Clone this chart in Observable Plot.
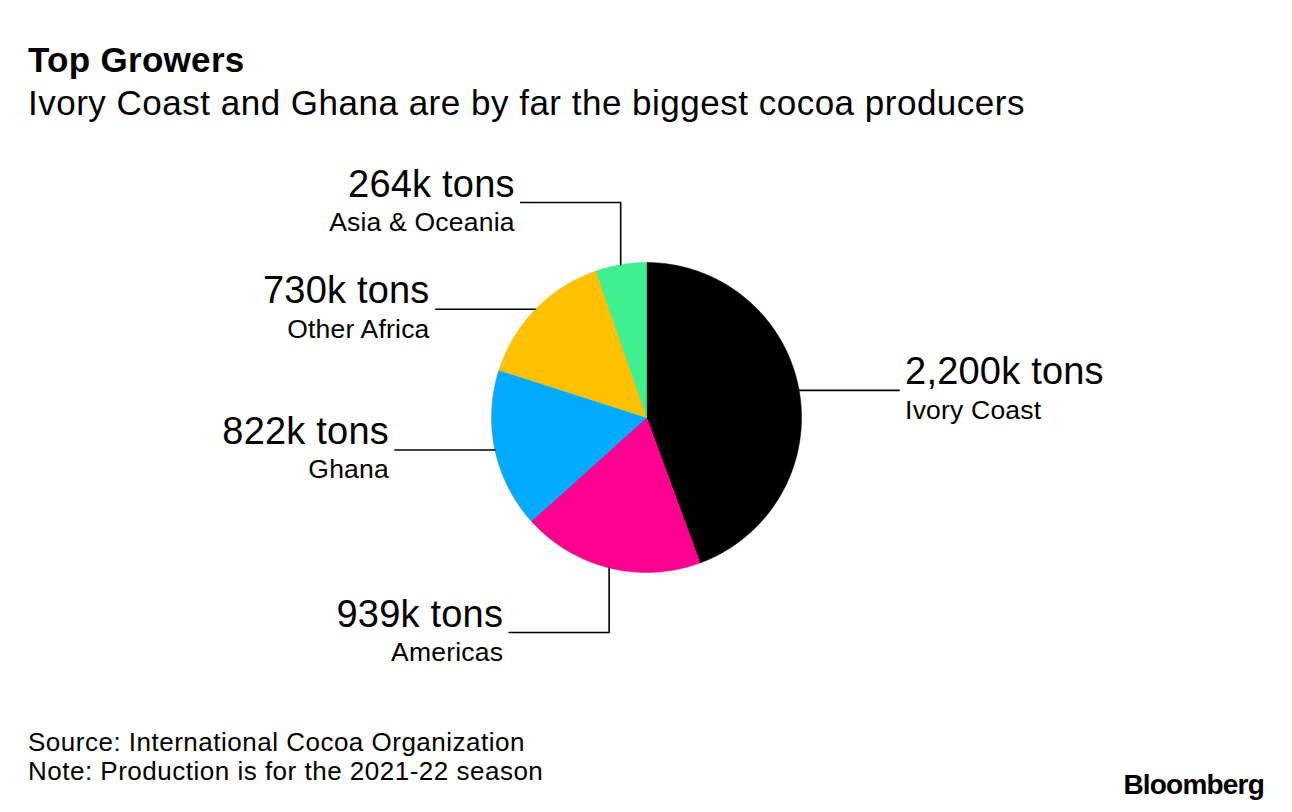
<!DOCTYPE html>
<html>
<head>
<meta charset="utf-8">
<script src="https://cdn.jsdelivr.net/npm/d3@7"></script>
<script src="https://cdn.jsdelivr.net/npm/@observablehq/plot@0.6"></script>
<style>
  html, body { margin: 0; padding: 0; background: #fff; }
  body { width: 1292px; height: 812px; position: relative; overflow: hidden; font-family: "Liberation Sans", Arial, sans-serif; color: #000; }
  #title { position: absolute; left: 28px; top: 40px; font-size: 35px; line-height: 40px; font-weight: bold; letter-spacing: 0.3px; }
  #subtitle { position: absolute; left: 28px; top: 83px; font-size: 35px; line-height: 40px; letter-spacing: 0.5px; }
  #chart { position: absolute; left: 0; top: 140px; }
  #source { position: absolute; left: 28px; top: 728px; font-size: 26px; line-height: 29px; letter-spacing: 0.5px; }
  #logo { position: absolute; right: 28px; top: 769px; font-size: 28px; font-weight: bold; letter-spacing: -0.8px; }
</style>
</head>
<body>
<div id="title">Top Growers</div>
<div id="subtitle">Ivory Coast and Ghana are by far the biggest cocoa producers</div>
<div id="chart"></div>
<div id="source">Source: International Cocoa Organization<br>Note: Production is for the 2021-22 season</div>
<div id="logo">Bloomberg</div>
<script>
// ---- data ----
const regions = ["Ivory Coast", "Americas", "Ghana", "Other Africa", "Asia & Oceania"];
const production = [2200, 939, 822, 730, 264]; // thousand tons
const valueLabels = ["2,200k tons", "939k tons", "822k tons", "730k tons", "264k tons"];
const colors = ["#000000", "#ff0090", "#00aaff", "#ffc000", "#40f090"];

// ---- layout ----
const W = 1292, H = 560;
const R = 155;                 // pie radius (in chart units = px)
const cx = 646, cy = 277;      // pie centre in svg px
const hLen = 100;              // horizontal leader length
const vLevel = 215;            // elbow distance for vertical leaders
const leaderKind = {"Ivory Coast": "h", "Americas": "v", "Ghana": "h", "Other Africa": "h", "Asia & Oceania": "v"};

const pie = d3.pie().sort(null).value((d) => d.value)(
  regions.map((r, i) => ({region: r, value: production[i], color: colors[i], label: valueLabels[i]}))
);

// slice polygons
const slicePts = [];
for (const s of pie) {
  const n = Math.max(2, Math.ceil((s.endAngle - s.startAngle) / 0.01));
  slicePts.push({region: s.data.region, x: 0, y: 0});
  for (let k = 0; k <= n; k++) {
    const a = s.startAngle + (s.endAngle - s.startAngle) * k / n;
    slicePts.push({region: s.data.region, x: R * Math.sin(a), y: R * Math.cos(a)});
  }
  slicePts.push({region: s.data.region, x: 0, y: 0});
}

// leaders and labels
const leaderPts = [];
const labels = [];
for (const s of pie) {
  const m = (s.startAngle + s.endAngle) / 2;
  const px = R * Math.sin(m), py = R * Math.cos(m);
  const side = px >= 0 ? 1 : -1;
  const reg = s.data.region;
  let ex, ey;
  leaderPts.push({region: reg, x: px, y: py});
  if (leaderKind[reg] === "v") {
    ey = py >= 0 ? vLevel : -vLevel;
    leaderPts.push({region: reg, x: px, y: ey});
    ex = px + side * hLen;
    leaderPts.push({region: reg, x: ex, y: ey});
  } else {
    ey = py;
    ex = px + side * hLen;
    leaderPts.push({region: reg, x: ex, y: ey});
  }
  const tx = ex + side * 6;
  labels.push({x: tx, y: ey, text: s.data.label, kind: "value", side});
  labels.push({x: tx, y: ey, text: reg, kind: "name", side});
}

const colorOf = Object.fromEntries(regions.map((r, i) => [r, colors[i]]));

const textMarks = [];
for (const side of [1, -1]) {
  const anchor = side > 0 ? "start" : "end";
  textMarks.push(Plot.text(labels.filter((d) => d.kind === "value" && d.side === side), {
    x: "x", y: "y", text: "text", textAnchor: anchor, dy: -6, lineAnchor: "bottom",
    fontSize: 38, fill: "#000"
  }));
  textMarks.push(Plot.text(labels.filter((d) => d.kind === "name" && d.side === side), {
    x: "x", y: "y", text: "text", textAnchor: anchor, dy: 28.5, lineAnchor: "bottom",
    fontSize: 26.5, fill: "#000"
  }));
}

const chart = Plot.plot({
  width: W,
  height: H,
  margin: 0,
  x: {domain: [-cx, W - cx], range: [0, W], axis: null},
  y: {domain: [cy - H, cy], range: [H, 0], axis: null},
  style: {fontFamily: "'Liberation Sans', Arial, sans-serif", background: "white", letterSpacing: "0.2px"},
  marks: [
    Plot.line(slicePts, {x: "x", y: "y", z: "region", fill: (d) => colorOf[d.region], stroke: (d) => colorOf[d.region], strokeWidth: 0.5, curve: "linear"}),
    Plot.line(leaderPts, {x: "x", y: "y", z: "region", stroke: "#000", strokeWidth: 1.6}),
    ...textMarks
  ]
});
document.getElementById("chart").appendChild(chart);
</script>
</body>
</html>
